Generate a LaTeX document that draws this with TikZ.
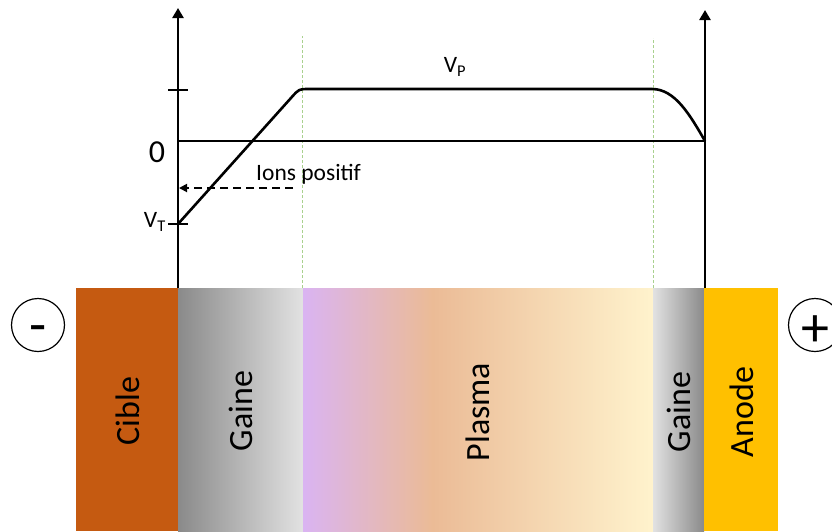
\documentclass[tikz,border=0pt]{standalone}
\usepackage{fontspec}
\setmainfont{Carlito}
\usetikzlibrary{arrows.meta}
\definecolor{cible}{HTML}{C55A11}
\definecolor{anode}{HTML}{FFC000}
\definecolor{gdark}{HTML}{8A8A8A}
\definecolor{glight}{HTML}{E2E2E2}
\definecolor{lav}{HTML}{DAB4F2}
\definecolor{peach}{HTML}{EBBB96}
\definecolor{cream}{HTML}{FFF3CD}
\definecolor{guide}{HTML}{A9D18E}
\pgfdeclarehorizontalshading{plasmashade}{100bp}{color(0bp)=(lav); color(25bp)=(lav); color(43.5bp)=(peach); color(75bp)=(cream); color(100bp)=(cream)}
\tikzset{
  bar/.style={draw=none, inner sep=0pt, outer sep=0pt, anchor=north west, minimum height=243pt},
  barlabel/.style={rotate=90, inner sep=0pt, font=\fontsize{34}{40}\selectfont},
  axisline/.style={line width=2.4pt, -{Triangle[width=11pt,length=10pt]}},
  tick/.style={line width=1.6pt},
  zeroline/.style={line width=2pt},
  curve/.style={line width=2.6pt, line join=round},
  guideline/.style={draw=guide, line width=0.9pt, dash pattern=on 3pt off 2pt},
  ionarrow/.style={line width=1.8pt, dash pattern=on 8pt off 5pt, -{Triangle[width=8pt,length=8pt]}},
  smalltext/.style={inner sep=0pt, font=\fontsize{23.5}{28}\selectfont},
  bigtext/.style={inner sep=0pt, font=\fontsize{32}{38}\selectfont},
  signcircle/.style={circle, draw, line width=1.2pt, minimum size=53pt, inner sep=0pt},
  signtext/.style={inner sep=0pt, anchor=base, font=\fontsize{56}{60}\selectfont},
}
\begin{document}
\begin{tikzpicture}[x=1pt,y=-1pt]
\useasboundingbox (0,0) rectangle (832,531);
% bars
\node[bar, fill=cible, minimum width=102pt] (cible) at (76,288) {};
\node[bar, shading=axis, left color=gdark, right color=glight, minimum width=125pt] (gaineL) at (178,288) {};
\node[bar, shading=plasmashade, minimum width=350pt] (plasma) at (303,288) {};
\node[bar, shading=axis, left color=glight, right color=gdark, minimum width=51pt] (gaineR) at (653,288) {};
\node[bar, fill=anode, minimum width=74pt] (anode) at (704,288) {};
\node[barlabel] at (128,411) {Cible};
\node[barlabel] at (241,411) {Gaine};
\node[barlabel] at (478,412) {Plasma};
\node[barlabel] at (679,412) {Gaine};
\node[barlabel] at (742,412) {Anode};
% signs
\node[signcircle] (minus) at (38,325) {};
\node[signcircle] (plus) at (815,325) {};
\node[signtext] (minustext) at (38,343) {-};
\node[signtext] (plustext) at (815,346) {+};
% coordinates
\coordinate (lb) at (178,288);
\coordinate (lt) at (178,8);
\coordinate (rb) at (705,288);
\coordinate (rt) at (705,10);
\coordinate (zl) at (178,141);
\coordinate (zr) at (705,141);
\coordinate (vt) at (178,224);
\coordinate (k1) at (291.5,97.4);
\coordinate (knee) at (299,89);
\coordinate (k2) at (309,89);
\coordinate (flatend) at (652,89);
\coordinate (g1t) at (302,36);
\coordinate (g1b) at (302,288);
\coordinate (g2t) at (653,38);
\coordinate (g2b) at (653,288);
\coordinate (ta) at (168,90);
\coordinate (tb) at (188,90);
\coordinate (tc) at (168,224);
\coordinate (td) at (188,224);
\coordinate (ia) at (293,188);
\coordinate (ib) at (179,188);
% guides
\draw[guideline] (g1b) -- (g1t);
\draw[guideline] (g2b) -- (g2t);
% axes
\draw[axisline] (lb) -- (lt);
\draw[axisline] (rb) -- (rt);
\draw[zeroline] (zl) -- (zr);
\draw[tick] (ta) -- (tb);
\draw[tick] (tc) -- (td);
% potential curve
\draw[curve] (vt) -- (k1) .. controls (knee) .. (k2) -- (flatend) .. controls +(23,0) and +(-15,-26) .. (zr);
% ions arrow
\draw[ionarrow] (ia) -- (ib);
% labels
\node[bigtext] (zero) at (157,152) {0};
\node[smalltext, anchor=west] (ions) at (256,174) {Ions positif};
\node[smalltext, anchor=east] (vtl) at (166,222) {V\textsubscript{T}};
\node[smalltext] (vpl) at (455,67) {V\textsubscript{P}};
\end{tikzpicture}
\end{document}
